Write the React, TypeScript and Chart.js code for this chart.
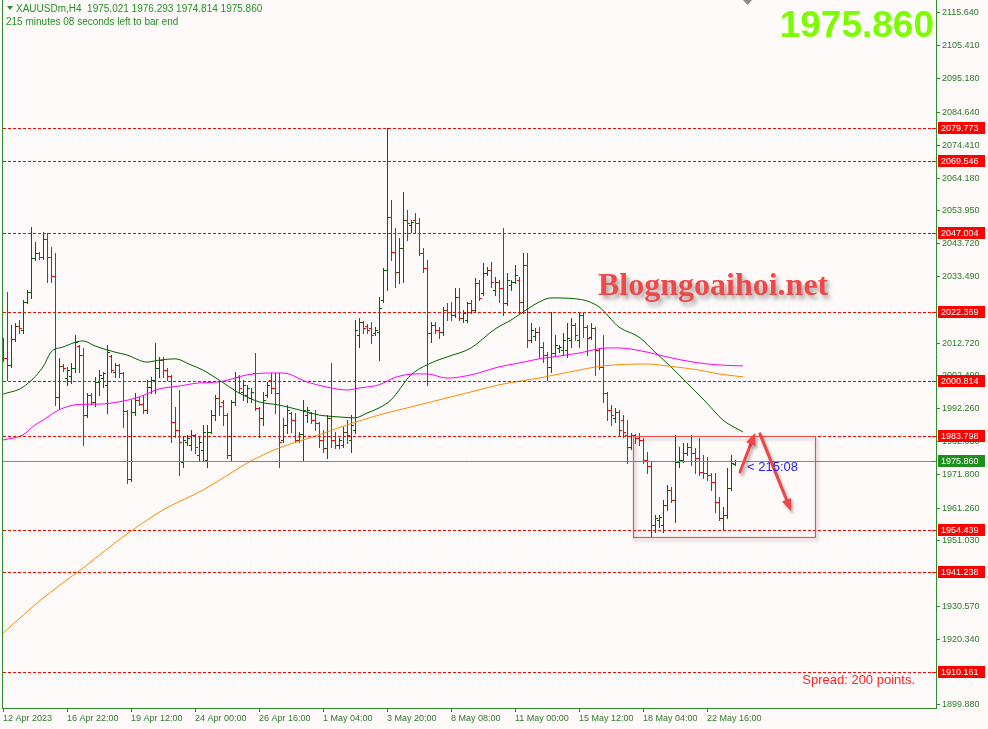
import { useEffect, useRef } from "react";
import { Chart, registerables } from "chart.js";

Chart.register(...registerables);

// ---------------- texts ----------------
const symbolTitle = "XAUUSDm,H4  1975.021 1976.293 1974.814 1975.860";
const timerTitle = "215 minutes 08 seconds left to bar end";
const bigPriceText = "1975.860";
const spreadText = "Spread: 200 points.";
const countdownText = "< 215:08";
const watermarkText = "Blogngoaihoi.net";

// ---------------- axes ----------------
const timeLabels = [
  "12 Apr 2023", "16 Apr 22:00", "19 Apr 12:00", "24 Apr 00:00", "26 Apr 16:00", "1 May 04:00",
  "3 May 20:00", "8 May 08:00", "11 May 00:00", "15 May 12:00", "18 May 04:00", "22 May 16:00",
];
const timeLabelBars = [0, 16, 32, 48, 64, 80, 96, 112, 128, 144, 160, 176];
const priceTicks = [
  2115.64, 2105.41, 2095.18, 2084.64, 2074.41, 2064.18, 2053.95, 2043.72, 2033.49, 2012.72,
  2002.49, 1992.26, 1982.03, 1971.8, 1961.26, 1951.03, 1930.57, 1920.34, 1899.88,
];
const levelPrices = [2079.773, 2069.546, 2047.004, 2022.369, 2000.814, 1983.798, 1954.439, 1941.238, 1910.161];
const bidPrice = 1975.86;

// ---------------- H4 OHLC bars ----------------
const opens = [
  2013.68, 2008.07, 2005.88, 2013.99, 2018.04, 2016.8, 2025.53, 2028.64, 2039.25, 2040.8,
  2039.56, 2045.17, 2039.56, 2033.63, 1995.91, 2005.57, 2001.83, 2002.45, 2004.95, 2011.81,
  2009.0, 1990.29, 1996.53, 1994.35, 2000.58, 2001.83, 1999.65, 2008.69, 2003.7, 2005.88,
  2003.39, 1991.54, 1970.34, 1991.23, 1994.97, 1993.72, 1991.85, 1999.02, 2001.21, 2004.95,
  2007.44, 2004.32, 2002.45, 1988.11, 1985.62, 1975.64, 1981.87, 1980.94, 1984.06, 1977.82,
  1979.38, 1976.26, 1984.99, 1990.29, 1995.59, 1994.35, 1990.29, 1977.82, 1994.35, 2002.14,
  1997.46, 1996.53, 1995.59, 2003.39, 1992.48, 1989.36, 1996.53, 2001.21, 1998.71, 1997.15,
  1982.5, 1987.17, 1990.92, 1988.73, 1982.5, 1984.37, 1990.29, 1990.92, 1988.73, 1987.8,
  1982.5, 1980.0, 1989.36, 1982.5, 1980.94, 1980.94, 1984.99, 1982.5, 1985.62, 2015.24,
  2019.29, 2018.04, 2017.42, 2015.86, 2016.17, 2026.15, 2035.5, 2052.03, 2041.12, 2034.88,
  2042.36, 2051.09, 2049.53, 2051.09, 2050.16, 2040.8, 2036.13, 2015.86, 2018.35, 2016.8,
  2016.17, 2023.03, 2022.41, 2021.47, 2027.09, 2020.54, 2019.91, 2025.21, 2023.03, 2031.45,
  2028.33, 2034.57, 2035.5, 2029.27, 2031.76, 2029.89, 2025.21, 2030.83, 2031.76, 2032.39,
  2025.53, 2037.06, 2013.68, 2014.93, 2016.17, 2011.5, 2009.0, 2005.26, 2009.62, 2011.18,
  2010.56, 2010.56, 2013.68, 2018.35, 2013.68, 2021.47, 2017.73, 2014.61, 2017.42, 2010.56,
  2005.26, 1997.15, 1991.85, 1989.36, 1991.23, 1988.73, 1984.06, 1980.32, 1984.06, 1983.12,
  1982.5, 1976.26, 1974.39, 1955.99, 1957.55, 1955.99, 1962.23, 1966.91, 1963.79, 1975.64,
  1976.26, 1978.44, 1980.32, 1978.44, 1976.89, 1972.52, 1972.21, 1971.58, 1969.4, 1963.17,
  1958.18, 1959.11, 1967.53, 1975.021,
];
const highs = [
  2014.3, 2028.64, 2018.35, 2018.98, 2019.91, 2026.15, 2029.27, 2048.91, 2044.23, 2041.12,
  2047.35, 2047.04, 2042.68, 2040.8, 2008.07, 2006.19, 2005.26, 2006.51, 2015.24, 2012.12,
  2011.18, 1997.15, 1997.15, 2002.14, 2004.32, 2003.7, 2012.12, 2009.0, 2006.51, 2006.19,
  2003.7, 1991.85, 1994.97, 1997.15, 1995.91, 1996.53, 2001.21, 2002.14, 2012.74, 2008.38,
  2008.38, 2004.95, 2002.76, 1992.79, 1998.09, 1983.43, 1984.06, 1985.62, 1984.37, 1983.43,
  1987.17, 1987.17, 1991.85, 1996.53, 2000.58, 1994.97, 1990.92, 1994.97, 2003.7, 2002.76,
  2001.21, 1999.65, 1998.71, 2009.62, 1992.79, 1997.46, 2000.58, 2003.39, 2003.39, 2003.39,
  1989.36, 1993.41, 1991.23, 1990.92, 1984.99, 1994.97, 1992.79, 1991.23, 1991.85, 1988.11,
  1985.62, 1990.29, 2006.51, 1984.99, 1983.12, 1986.55, 1988.73, 1990.29, 2019.91, 2020.54,
  2019.6, 2018.67, 2019.29, 2017.73, 2027.09, 2036.13, 2079.773, 2057.33, 2048.6, 2045.48,
  2059.82, 2054.21, 2051.09, 2053.28, 2051.72, 2042.36, 2038.62, 2019.29, 2019.29, 2017.73,
  2023.97, 2025.21, 2025.53, 2029.89, 2029.89, 2023.03, 2025.53, 2026.15, 2033.01, 2032.39,
  2037.69, 2036.44, 2038.0, 2033.32, 2032.39, 2048.6, 2034.57, 2032.39, 2037.06, 2033.32,
  2040.8, 2040.8, 2018.98, 2017.42, 2017.73, 2013.05, 2009.94, 2022.41, 2015.24, 2012.12,
  2015.86, 2018.98, 2020.54, 2018.98, 2022.41, 2022.41, 2018.35, 2018.98, 2017.73, 2011.18,
  2015.24, 1997.46, 1993.41, 1992.48, 1991.85, 1990.29, 1988.73, 1984.68, 1984.37, 1984.68,
  1983.12, 1978.76, 1975.64, 1959.11, 1959.11, 1963.79, 1968.47, 1967.84, 1984.06, 1980.32,
  1981.56, 1981.56, 1984.06, 1980.0, 1983.12, 1977.82, 1977.2, 1972.21, 1972.21, 1964.73,
  1961.61, 1973.77, 1977.82, 1976.293,
];
const lows = [
  2007.13, 2001.21, 2005.26, 2013.37, 2015.86, 2015.86, 2025.21, 2026.77, 2038.62, 2038.93,
  2038.93, 2031.76, 2031.76, 1993.41, 1992.48, 2004.01, 1999.65, 2000.27, 2003.7, 2003.7,
  1980.94, 1989.67, 1993.72, 1993.1, 1996.53, 1999.02, 1990.92, 2003.7, 2002.14, 2002.14,
  1986.55, 1969.09, 1969.71, 1990.29, 1993.41, 1990.92, 1990.92, 1997.15, 1997.15, 2002.14,
  2002.14, 2001.21, 1981.87, 1983.43, 1971.58, 1974.08, 1980.94, 1979.38, 1978.44, 1976.26,
  1976.26, 1974.08, 1984.68, 1988.73, 1990.29, 1987.17, 1976.89, 1976.26, 1993.41, 1997.15,
  1994.97, 1994.35, 1994.35, 1991.85, 1983.43, 1987.17, 1995.91, 1997.15, 1990.92, 1974.08,
  1981.87, 1984.68, 1984.99, 1981.87, 1981.87, 1976.26, 1988.11, 1987.8, 1985.62, 1980.32,
  1978.76, 1976.89, 1980.32, 1980.0, 1980.0, 1980.32, 1981.56, 1978.76, 1984.68, 2011.5,
  2015.86, 2015.86, 2012.74, 2015.24, 2007.44, 2025.53, 2029.27, 2038.62, 2030.2, 2031.45,
  2031.76, 2044.86, 2047.35, 2047.04, 2040.18, 2034.88, 1999.65, 2013.05, 2015.86, 2014.3,
  2015.24, 2019.91, 2019.91, 2020.85, 2019.91, 2019.29, 2019.29, 2022.1, 2022.41, 2026.15,
  2027.71, 2033.94, 2030.2, 2027.71, 2025.53, 2021.47, 2024.59, 2029.27, 2031.45, 2022.1,
  2022.1, 2011.5, 2013.05, 2013.68, 2008.38, 2006.82, 2001.21, 2003.7, 2009.0, 2009.94,
  2009.0, 2008.38, 2011.5, 2013.68, 2011.5, 2014.61, 2009.0, 2013.99, 2002.76, 2004.64,
  1994.35, 1988.73, 1987.17, 1988.11, 1984.06, 1983.43, 1975.33, 1979.69, 1981.56, 1980.94,
  1975.33, 1972.21, 1952.25, 1953.81, 1955.37, 1953.81, 1960.67, 1963.17, 1956.93, 1974.08,
  1975.64, 1977.82, 1974.7, 1972.21, 1971.58, 1970.65, 1970.03, 1966.91, 1960.05, 1957.55,
  1954.44, 1958.18, 1966.91, 1974.814,
];
const closes = [
  2008.07, 2005.88, 2013.99, 2018.04, 2017.42, 2025.53, 2028.64, 2039.25, 2040.8, 2039.56,
  2045.17, 2039.56, 2033.63, 1995.91, 2005.57, 2004.95, 2004.32, 2004.95, 2013.05, 2009.0,
  1990.29, 1996.53, 1994.35, 2000.58, 2002.76, 2003.39, 2009.94, 2004.32, 2005.88, 2003.39,
  1991.54, 1970.34, 1991.23, 1994.97, 1993.72, 1991.85, 1999.02, 2001.21, 2004.95, 2007.44,
  2004.32, 2002.45, 1988.11, 1985.62, 1981.87, 1982.5, 1983.12, 1984.06, 1980.32, 1981.87,
  1984.99, 1984.99, 1990.29, 1995.59, 1993.1, 1990.29, 1977.82, 1994.35, 2002.14, 1998.71,
  1999.65, 1998.71, 1997.46, 1992.48, 1989.36, 1994.97, 1999.65, 1998.71, 1997.15, 1981.87,
  1987.17, 1991.85, 1988.73, 1982.5, 1984.37, 1991.85, 1991.85, 1988.73, 1987.8, 1982.5,
  1980.0, 1989.36, 1982.5, 1980.94, 1982.5, 1984.99, 1984.06, 1987.17, 2016.8, 2019.29,
  2017.42, 2016.8, 2015.24, 2016.8, 2023.66, 2035.5, 2052.03, 2041.12, 2034.88, 2042.36,
  2051.09, 2050.16, 2050.47, 2050.16, 2040.8, 2036.13, 2015.86, 2018.35, 2016.8, 2016.17,
  2023.03, 2022.41, 2021.47, 2027.09, 2020.54, 2022.1, 2025.21, 2023.03, 2031.45, 2026.77,
  2034.57, 2035.5, 2031.76, 2031.76, 2029.89, 2025.21, 2032.39, 2031.76, 2033.94, 2025.53,
  2037.06, 2013.68, 2016.8, 2016.17, 2011.5, 2009.0, 2005.26, 2009.62, 2012.12, 2011.5,
  2013.68, 2014.3, 2018.35, 2015.24, 2021.47, 2017.73, 2014.3, 2017.42, 2010.56, 2005.26,
  1997.15, 1991.85, 1990.29, 1991.23, 1985.62, 1984.99, 1980.32, 1984.06, 1983.12, 1982.5,
  1976.26, 1974.39, 1955.99, 1958.18, 1958.49, 1962.23, 1966.91, 1963.79, 1975.64, 1976.26,
  1978.44, 1980.32, 1978.44, 1976.89, 1972.52, 1972.21, 1971.58, 1969.4, 1963.17, 1958.18,
  1959.11, 1967.53, 1975.33, 1975.86,
];

// ---------------- moving averages: [bar index, price] ----------------
const maGreen: [number, number][] = [
  [0, 1996.8], [5, 1999.0], [10, 2005.3], [12, 2009.9], [15, 2011.5], [20, 2013.4], [23, 2011.8],
  [28, 2009.9], [31, 2009.0], [36, 2006.8], [39, 2007.4], [43, 2007.8], [47, 2005.9], [50, 2004.3],
  [54, 2001.2], [59, 1997.2], [64, 1994.4], [69, 1993.4], [74, 1991.9], [79, 1990.3], [84, 1989.7],
  [88, 1989.4], [91, 1990.9], [94, 1992.5], [97, 1995.0], [102, 2002.8], [107, 2006.5], [111, 2008.4],
  [117, 2011.2], [123, 2017.1], [127, 2019.9], [130, 2022.4], [134, 2025.5], [137, 2026.8],
  [144, 2026.4], [149, 2024.0], [154, 2017.7], [159, 2014.6], [163, 2009.9], [167, 2005.3],
  [171, 2000.3], [176, 1994.0], [180, 1988.7], [185, 1985.0],
];
const maMagenta: [number, number][] = [
  [0, 1982.5], [5, 1984.1], [8, 1987.2], [10, 1988.7], [14, 1991.9], [19, 1993.6], [24, 1993.7],
  [29, 1994.4], [34, 1995.9], [39, 1998.4], [44, 1999.3], [49, 2000.3], [54, 2000.6], [61, 2002.8],
  [67, 2003.4], [70, 2003.4], [76, 2000.6], [81, 1999.0], [86, 1998.1], [89, 1998.7], [94, 1999.7],
  [98, 2002.0], [103, 2003.1], [106, 2003.1], [111, 2001.8], [117, 2002.8], [124, 2005.3],
  [129, 2006.5], [134, 2007.8], [138, 2008.5], [144, 2009.6], [151, 2011.2], [154, 2011.2],
  [161, 2009.9], [166, 2008.4], [173, 2006.7], [179, 2005.9], [185, 2005.6],
];
const maOrange: [number, number][] = [
  [0, 1922.3], [10, 1933.2], [20, 1942.6], [30, 1952.3], [40, 1960.7], [50, 1966.9], [57, 1972.2],
  [61, 1975.3], [69, 1980.0], [78, 1983.7], [86, 1987.2], [94, 1990.3], [102, 1992.8], [109, 1995.0],
  [117, 1997.5], [124, 1999.7], [134, 2001.8], [144, 2004.3], [150, 2005.6], [161, 2006.2],
  [166, 2005.6], [174, 2004.3], [179, 2003.1], [185, 2002.2],
];

// ---------------- drawn objects (bar index / price) ----------------
const rangeBox = { fromBar: 157.5, toBar: 203, top: 1983.8, bottom: 1952.2 };
const arrowUp: [number, number][] = [[184.25, 1972.5], [188, 1984.7]];
const arrowDown: [number, number][] = [[189.25, 1984.4], [197, 1960.4]];

// ---------------- styles ----------------
const BG = "#fffafa";
const AXIS = "#2e8b2e";
const LABEL = "#2a7a2a";
const UP = "#006400";
const DOWN = "#ff0000";
const SANS = "'Liberation Sans', Arial, sans-serif";

const backgroundPlugin = {
  id: "bg",
  beforeDraw(chart: any) {
    const { ctx, width, height } = chart;
    ctx.save();
    ctx.fillStyle = BG;
    ctx.fillRect(0, 0, width, height);
    ctx.restore();
  },
};

const ohlcPlugin = {
  id: "ohlc",
  beforeDatasetsDraw(chart: any) {
    const { ctx, chartArea: a, scales } = chart;
    const xs = scales.x, ys = scales.y;
    ctx.save();
    ctx.beginPath();
    ctx.rect(a.left + 1, a.top, a.right - a.left - 1, a.bottom - a.top);
    ctx.clip();
    for (let i = 0; i < opens.length; i++) {
      const up = closes[i] >= opens[i];
      ctx.fillStyle = up ? UP : DOWN;
      const c = Math.round(xs.getPixelForValue(i));
      const yh = Math.round(ys.getPixelForValue(highs[i]));
      const yl = Math.round(ys.getPixelForValue(lows[i]));
      const yo = Math.round(ys.getPixelForValue(opens[i]));
      const yc = Math.round(ys.getPixelForValue(closes[i]));
      ctx.fillRect(c, yh, 1, yl - yh + 1);
      ctx.fillRect(c - 2, yo, 2, 1);
      ctx.fillRect(c + 1, yc, 2, 1);
    }
    ctx.restore();
  },
};

function drawArrow(ctx: CanvasRenderingContext2D, x1: number, y1: number, x2: number, y2: number) {
  const ang = Math.atan2(y2 - y1, x2 - x1);
  const head = 12;
  const bx = x2 - head * Math.cos(ang);
  const by = y2 - head * Math.sin(ang);
  ctx.beginPath();
  ctx.moveTo(x1, y1);
  ctx.lineTo(bx, by);
  ctx.stroke();
  ctx.beginPath();
  ctx.moveTo(x2, y2);
  ctx.lineTo(bx + 5 * Math.cos(ang + Math.PI / 2), by + 5 * Math.sin(ang + Math.PI / 2));
  ctx.lineTo(bx + 5 * Math.cos(ang - Math.PI / 2), by + 5 * Math.sin(ang - Math.PI / 2));
  ctx.closePath();
  ctx.fill();
}

const overlayPlugin = {
  id: "overlay",
  afterDraw(chart: any) {
    const { ctx, chartArea: a, scales } = chart;
    const xs = scales.x, ys = scales.y;
    const py = (p: number) => Math.round(ys.getPixelForValue(p)) + 0.5;
    ctx.save();

    // left frame line
    ctx.fillStyle = AXIS;
    ctx.fillRect(a.left, a.top, 1, a.bottom - a.top + 1);

    // watermark
    ctx.save();
    ctx.font = "bold 32px 'Liberation Serif', 'Times New Roman', serif";
    ctx.fillStyle = "#f04848";
    ctx.shadowColor = "rgba(0,0,0,0.35)";
    ctx.shadowOffsetX = 3;
    ctx.shadowOffsetY = 4;
    ctx.shadowBlur = 4;
    ctx.textBaseline = "alphabetic";
    ctx.fillText(watermarkText, 598, 295);
    ctx.restore();

    // horizontal levels
    ctx.save();
    ctx.beginPath();
    ctx.rect(a.left + 1, a.top, a.right - a.left - 1, a.bottom - a.top);
    ctx.clip();
    ctx.strokeStyle = "#ff0000";
    ctx.lineWidth = 1;
    ctx.setLineDash([3, 2]);
    for (const p of levelPrices) {
      const y = py(p);
      ctx.beginPath();
      ctx.moveTo(a.left + 1, y);
      ctx.lineTo(a.right, y);
      ctx.stroke();
    }
    ctx.setLineDash([]);
    // bid line
    ctx.strokeStyle = "#778899";
    ctx.beginPath();
    ctx.moveTo(a.left + 1, py(bidPrice));
    ctx.lineTo(a.right, py(bidPrice));
    ctx.stroke();

    // range rectangle
    ctx.save();
    ctx.shadowColor = "rgba(0,0,0,0.25)";
    ctx.shadowOffsetX = 2;
    ctx.shadowOffsetY = 3;
    ctx.shadowBlur = 3;
    ctx.strokeStyle = "#ee5050";
    ctx.lineWidth = 1.2;
    const bx0 = Math.round(xs.getPixelForValue(rangeBox.fromBar)) + 0.5;
    const bx1 = Math.round(xs.getPixelForValue(rangeBox.toBar)) + 0.5;
    const by0 = py(rangeBox.top);
    const by1 = py(rangeBox.bottom);
    ctx.strokeRect(bx0, by0, bx1 - bx0, by1 - by0);
    ctx.restore();

    // arrows
    ctx.save();
    ctx.shadowColor = "rgba(0,0,0,0.3)";
    ctx.shadowOffsetX = 2;
    ctx.shadowOffsetY = 3;
    ctx.shadowBlur = 3;
    ctx.strokeStyle = "#f04545";
    ctx.fillStyle = "#f04545";
    ctx.lineWidth = 3;
    ctx.lineCap = "round";
    for (const ar of [arrowUp, arrowDown]) {
      drawArrow(
        ctx,
        xs.getPixelForValue(ar[0][0]), ys.getPixelForValue(ar[0][1]),
        xs.getPixelForValue(ar[1][0]), ys.getPixelForValue(ar[1][1])
      );
    }
    ctx.restore();

    // countdown
    ctx.font = `13px ${SANS}`;
    ctx.fillStyle = "#2222ff";
    ctx.textBaseline = "middle";
    ctx.textAlign = "left";
    ctx.fillText(countdownText, xs.getPixelForValue(opens.length - 1) + 12, ys.getPixelForValue(bidPrice) + 6.5);

    // spread
    ctx.font = `13px ${SANS}`;
    ctx.fillStyle = "#ff2020";
    ctx.textAlign = "right";
    ctx.fillText(spreadText, a.right - 21, a.bottom - 28);
    ctx.restore();

    // top shift marker
    ctx.fillStyle = "#8a8a8a";
    ctx.beginPath();
    ctx.moveTo(743, 0);
    ctx.lineTo(752, 0);
    ctx.lineTo(747.5, 5);
    ctx.closePath();
    ctx.fill();

    // header
    ctx.fillStyle = "#259025";
    ctx.beginPath();
    ctx.moveTo(7, 6);
    ctx.lineTo(13, 6);
    ctx.lineTo(10, 10);
    ctx.closePath();
    ctx.fill();
    ctx.font = `10px ${SANS}`;
    ctx.textAlign = "left";
    ctx.textBaseline = "middle";
    ctx.fillText(symbolTitle, 16, 9);
    ctx.fillText(timerTitle, 6, 22);

    // big price
    ctx.font = `bold 37px ${SANS}`;
    ctx.fillStyle = "#7cfc00";
    ctx.textAlign = "right";
    ctx.textBaseline = "alphabetic";
    ctx.fillText(bigPriceText, a.right - 2, 37);

    // right-axis price boxes
    ctx.font = `9px ${SANS}`;
    ctx.textAlign = "left";
    ctx.textBaseline = "middle";
    const boxes: [number, string][] = levelPrices.map((p) => [p, "#ff0000"] as [number, string]);
    boxes.push([bidPrice, "#1f8f1f"]);
    for (const [p, col] of boxes) {
      const y = Math.round(ys.getPixelForValue(p));
      ctx.fillStyle = col;
      ctx.fillRect(a.right + 2, y - 6, 47, 12);
      ctx.fillRect(a.right - 4, y, 3, 1);
      ctx.fillStyle = "#ffffff";
      ctx.fillText(p.toFixed(3), a.right + 5, y + 0.5);
    }
    ctx.restore();
  },
};

export default function App() {
  const ref = useRef<HTMLCanvasElement>(null);
  useEffect(() => {
    const canvas = ref.current!;
    const line = (pts: [number, number][], color: string) => ({
      data: pts.map(([b, v]) => ({ x: b, y: v })),
      borderColor: color,
      borderWidth: 1,
      pointRadius: 0,
      fill: false,
      cubicInterpolationMode: "monotone" as const,
    });
    const chart = new Chart(canvas, {
      type: "line",
      data: {
        datasets: [line(maOrange, "#ff8c00"), line(maMagenta, "#ff00ff"), line(maGreen, "#006400")],
      },
      options: {
        animation: false,
        responsive: false,
        devicePixelRatio: 1,
        events: [],
        layout: { padding: { left: 2, top: 0, right: 0, bottom: 0 } },
        plugins: { legend: { display: false }, tooltip: { enabled: false } },
        scales: {
          x: {
            type: "linear",
            position: "bottom",
            min: -0.25,
            max: 233.25,
            afterBuildTicks: (s: any) => {
              s.ticks = timeLabelBars.map((v) => ({ value: v }));
            },
            afterFit: (s: any) => {
              s.height = 21;
              s.paddingLeft = 0;
              s.paddingRight = 0;
            },
            ticks: {
              callback: (_v: any, i: number) => timeLabels[i],
              align: "start",
              autoSkip: false,
              maxRotation: 0,
              minRotation: 0,
              padding: 1,
              color: LABEL,
              font: { family: SANS, size: 9 },
            },
            grid: { drawOnChartArea: false, tickLength: 4, color: AXIS },
            border: { color: AXIS, width: 1 },
          },
          y: {
            type: "linear",
            position: "right",
            min: 1898.94,
            max: 2119.69,
            afterBuildTicks: (s: any) => {
              s.ticks = priceTicks.map((v) => ({ value: v }));
            },
            afterFit: (s: any) => {
              s.width = 52;
              s.paddingTop = 0;
              s.paddingBottom = 0;
            },
            ticks: {
              callback: (v: any) => Number(v).toFixed(3),
              autoSkip: false,
              padding: 2,
              color: LABEL,
              font: { family: SANS, size: 9 },
            },
            grid: { drawOnChartArea: false, tickLength: 4, color: AXIS },
            border: { color: AXIS, width: 1 },
          },
        },
      } as any,
      plugins: [backgroundPlugin, ohlcPlugin, overlayPlugin],
    });
    return () => chart.destroy();
  }, []);
  return (
    <div style={{ position: "fixed", left: 0, top: 0, width: 988, height: 729, background: BG }}>
      <canvas ref={ref} width={988} height={729} style={{ display: "block", width: 988, height: 729 }} />
    </div>
  );
}
